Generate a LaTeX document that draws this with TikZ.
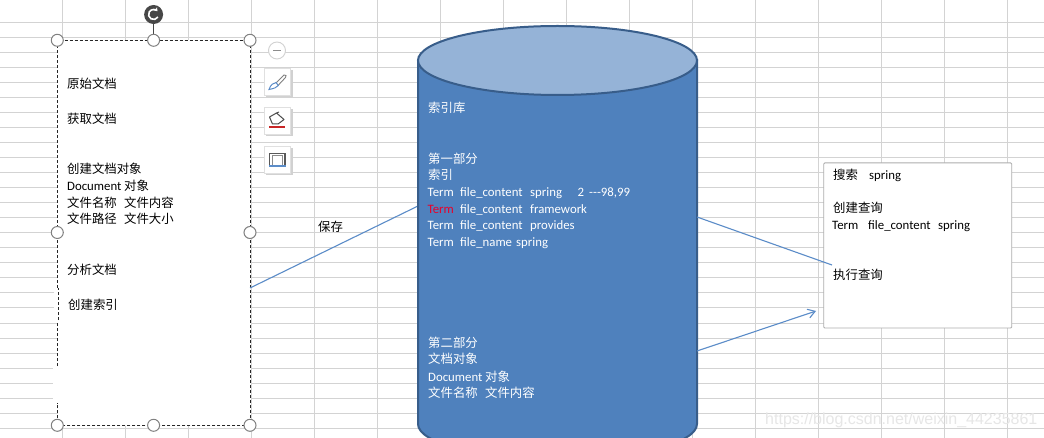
\documentclass[tikz,border=0pt]{standalone}
\usepackage{fontspec}
\setmainfont{Carlito}
\newfontfamily\cjk{Noto Sans CJK SC}
\newfontfamily\wm{Liberation Sans}
\usetikzlibrary{arrows.meta}
\definecolor{gridc}{HTML}{D3D3D3}
\definecolor{cylfill}{HTML}{4F81BD}
\definecolor{cyltop}{HTML}{95B3D7}
\definecolor{cyledge}{HTML}{385D8A}
\definecolor{linkc}{HTML}{5B8CC8}
\definecolor{handlec}{HTML}{808080}
\definecolor{termred}{HTML}{E8002A}
\definecolor{wmc}{HTML}{E6E6E6}
\tikzset{
  x=1pt,y=-1pt,
  gridline/.style={gridc,line width=1pt},
  txt/.style={anchor=base west,inner sep=0pt,yshift=-1pt,font=\fontsize{12.8}{14}\selectfont},
  zh/.style={anchor=base west,inner sep=0pt,yshift=-1pt,font=\cjk\fontsize{12.4}{14}\selectfont},
  wtxt/.style={txt,text=white},
  wzh/.style={zh,text=white},
  handle/.style={circle,draw=handlec,fill=white,line width=1pt,minimum size=12pt,inner sep=0pt},
  link/.style={linkc,line width=1.1pt},
  iconbox/.style={draw=black!12,fill=white,line width=.8pt},
  iconshadow/.style={fill=black!18,draw=none},
}
\newcommand{\tcols}[3]{\makebox[32.5pt][l]{#1}\makebox[70pt][l]{#2}#3}
\newcommand{\docobj}{\makebox[57pt][l]{Document}{\cjk\fontsize{12.4}{14}\selectfont 对象}}
\begin{document}
\begin{tikzpicture}
\useasboundingbox (0,0) rectangle (1044,438);
\clip (0,0) rectangle (1044,438);
\fill[white] (0,0) rectangle (1044,438);
% spreadsheet grid
\foreach \k in {0,...,15} \draw[gridline] ({62+63.03*\k},0) -- ({62+63.03*\k},438);
\foreach \k in {1,...,28} \draw[gridline] (0,{8+15*\k}) -- (1044,{8+15*\k});

% left shape
\node[draw=none,fill=white,minimum width=193pt,minimum height=385pt,inner sep=0pt,anchor=north west] (doc) at (57.3,40.3) {};
\fill[white] (53,366) rectangle (58.5,404);
\fill[white] (54,288) rectangle (58.5,322);
\draw[black!85,densely dashed,line width=.8pt] (57.3,366) -- (57.3,322);
\draw[black!85,densely dashed,line width=.8pt] (58.3,320) -- (58.3,288);
\draw[black!85,densely dashed,line width=.8pt] (57.3,288) -- (57.3,40.3) -- (250,40.3) -- (250,425.3) -- (57.3,425.3) -- (57.3,403);

% selection handles
\coordinate (rotbase) at (153.6,34);
\node[circle,fill=black!72,minimum size=19pt,inner sep=0pt] (rot) at (153.6,14.5) {};
\draw[black!72,line width=1pt] (rot) -- (rotbase);
\draw[white,line width=1.6pt,-{Stealth[length=3.5pt,width=5pt]}] (157.9,17) arc[start angle=30,end angle=320,radius=5];
\node[handle] (h1) at (57.3,40.3) {};
\node[handle] (h2) at (153.6,40.3) {};
\node[handle] (h3) at (250,40.3) {};
\node[handle] (h4) at (57.3,232.5) {};
\node[handle] (h5) at (250,232.5) {};
\node[handle] (h6) at (57.3,425.3) {};
\node[handle] (h7) at (153.6,425.3) {};
\node[handle] (h8) at (250,425.3) {};

% toolbar
\node[circle,draw=black!18,fill=white,line width=.9pt,minimum size=17pt,inner sep=0pt] (minus) at (277,50.5) {};
\draw[black!45,line width=1.6pt] (273,50.5) -- (281,50.5);
\fill[iconshadow] (265.5,70) rectangle (292.5,97);
\draw[iconbox] (264,68.5) rectangle (290.5,95);
\fill[iconshadow] (265.5,109) rectangle (292.5,136);
\draw[iconbox] (264,107.5) rectangle (290.5,134);
\fill[iconshadow] (265.5,148) rectangle (292.5,175);
\draw[iconbox] (264,146.5) rectangle (290.5,173);
% brush
\draw[black!50,line width=.9pt,fill=white] (276,83) -- (284,75) -- (286,75.5) -- (285.5,77.5) -- (278,85.5) -- cycle;
\draw[linkc,fill=white,line width=1pt] (269,89.5) .. controls (271,84) and (273,83.5) .. (276,82.5) -- (278.3,85.5) .. controls (277,87.5) and (274,88.5) .. (269,89.5) -- cycle;
% fill bucket
\draw[black!70,line width=1pt,line join=round] (269.5,117) -- (276.5,113) -- (284,119.5) -- (278,124) -- (272.5,124) -- cycle;
\draw[black!70,line width=1pt] (276.5,113) -- (279,112);
\draw[red!75!black,opacity=.85,line width=2pt] (269,127.5) -- (285,127.5);
% outline
\draw[black!65,line width=1.4pt] (269.5,165) -- (269.5,153.5) -- (285,153.5) -- (285,165);
\draw[black!45,line width=1pt] (272,165) -- (272,156) -- (282.5,156) -- (282.5,165);
\draw[linkc,line width=2pt] (269,166.5) -- (285.5,166.5);

% left text
\node[zh] (t1) at (67,87.5) {原始文档};
\node[zh] (t2) at (67,122.5) {获取文档};
\node[zh] (t3) at (67,172.5) {创建文档对象};
\node[txt] (t4) at (67,190) {\docobj};
\node[zh] (t5) at (67,206.5) {文件名称\hspace{7.4pt}文件内容};
\node[zh] (t6) at (67,222.5) {文件路径\hspace{7.4pt}文件大小};
\node[zh] (t7) at (67,273.5) {分析文档};
\node[zh] (t8) at (68,308.5) {创建索引};
\node[zh] (save) at (318,230.5) {保存};

% connectors behind the cylinder
\coordinate (a1) at (250,288);
\coordinate (a2) at (418,206);
\draw[link] (a1) -- (a2);

% cylinder
\path[fill=cylfill,draw=cyledge,line width=2pt] (418,60) -- (418,424) arc[x radius=139.5,y radius=35,start angle=180,end angle=0] -- (697,60) -- cycle;
\draw[fill=cyltop,draw=cyledge,line width=2pt] (557.5,60.5) ellipse[x radius=139.5,y radius=34.5];

% cylinder text
\node[wzh] (c1) at (428,111.5) {索引库};
\node[wzh] (c2) at (428,162.5) {第一部分};
\node[wzh] (c3) at (428,178.5) {索引};
\node[wtxt] (c4) at (427.5,196) {\tcols{Term}{file\_content}{\makebox[47.5pt][l]{spring}}2\hspace{5pt}-{}-{}-98,99};
\node[wtxt] (c5) at (427.5,213) {\tcols{\textcolor{termred}{Term}}{file\_content}{framework}};
\node[wtxt] (c6) at (427.5,229) {\tcols{Term}{file\_content}{provides}};
\node[wtxt] (c7) at (427.5,246) {\tcols{Term}{file\_name}{}};
\node[wtxt] (c7b) at (516,246) {spring};
\node[wzh] (c8) at (428,346.5) {第二部分};
\node[wzh] (c9) at (428,362.5) {文档对象};
\node[wtxt] (c10) at (428,380) {\docobj};
\node[wzh] (c11) at (428,396.5) {文件名称\hspace{7.4pt}文件内容};

% right box
\node[draw=black!32,fill=white,line width=.9pt,rounded corners=1pt,minimum width=188pt,minimum height=165pt,inner sep=0pt,anchor=north west] (query) at (823.3,162.5) {};
\node[zh] (q1) at (833,178.5) {搜索};
\node[txt] (q2) at (869,178.5) {spring};
\node[zh] (q3) at (833,211.5) {创建查询};
\node[txt] (q4) at (832,229) {\makebox[36pt][l]{Term}\makebox[70pt][l]{file\_content}spring};
\node[zh] (q5) at (833,278.5) {执行查询};

% connectors to the right
\coordinate (b1) at (697,217);
\coordinate (b2) at (832,265);
\draw[link] (b1) -- (b2);
\coordinate (d1) at (697,351);
\coordinate (d2) at (816,311);
\draw[link,-{Straight Barb[length=7pt,width=9pt]}] (d1) -- (d2);

% watermark
\node[anchor=base west,inner sep=0pt,text=wmc,font=\wm\fontsize{16}{18}\selectfont] (wm) at (765,424.5) {https://blog.csdn.net/weixin\_44235861};
\end{tikzpicture}
\end{document}
